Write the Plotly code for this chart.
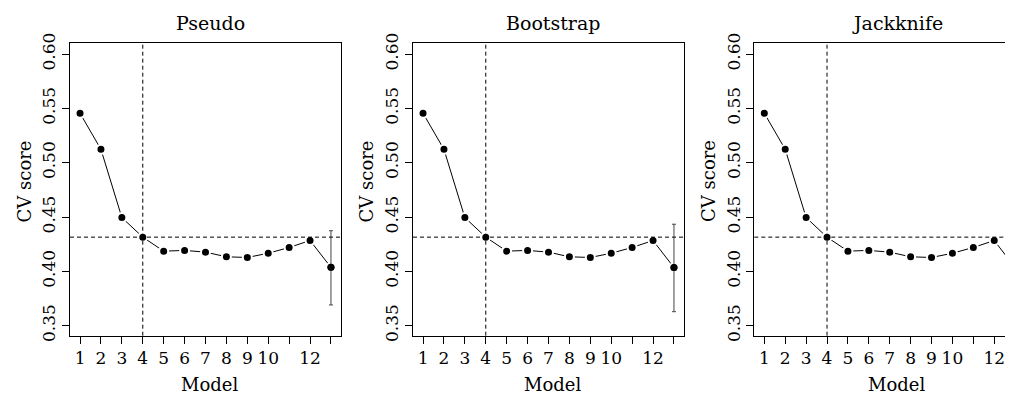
import plotly.graph_objects as go

# ---- data ----
models = [1, 2, 3, 4, 5, 6, 7, 8, 9, 10, 11, 12, 13]
x_tick_vals = [1, 2, 3, 4, 5, 6, 7, 8, 9, 10, 11, 12, 13]
x_tick_text = ["1", "2", "3", "4", "5", "6", "7", "8", "9", "10", "", "12", ""]
y_tick_vals = [0.35, 0.40, 0.45, 0.50, 0.55, 0.60]
y_tick_text = ["0.35", "0.40", "0.45", "0.50", "0.55", "0.60"]

panel_titles = ["Pseudo", "Bootstrap", "Jackknife"]
pseudo_cv = [0.5455, 0.5123, 0.4495, 0.4315, 0.4186, 0.4193, 0.4177, 0.4134, 0.4128, 0.4167, 0.4220, 0.4284, 0.4037]
bootstrap_cv = [0.5455, 0.5123, 0.4495, 0.4315, 0.4186, 0.4193, 0.4177, 0.4134, 0.4128, 0.4167, 0.4220, 0.4284, 0.4035]
jackknife_cv = [0.5455, 0.5123, 0.4495, 0.4315, 0.4186, 0.4193, 0.4177, 0.4134, 0.4128, 0.4167, 0.4220, 0.4284, 0.4035]
err_upper = [0.4374, 0.4434, 0.4434]   # upper end of error bar at last model
err_lower = [0.3691, 0.3629, 0.3629]   # lower end of error bar at last model
selected_model = 4
threshold = 0.4315

series = [pseudo_cv, bootstrap_cv, jackknife_cv]

# ---- layout geometry (page pixels; the page body has an 8px margin) ----
W, H = 1013, 396
OFF = 8
FONT = "DejaVu Serif"
box_left = [70, 413, 754.3]
box_right = [341, 684, 1013]
box_top, box_bottom = 43.3, 335.7
x_ranges = [[0.52, 13.48], [0.52, 13.48], [0.52, 0.52 + (1013 - 754.3) / 20.9]]
y_range = [0.3408, 0.6099]
title_cx = [210, 553, 897.5]
ylab_cx = [24, 366, 708.5]


def px(xp):
    return (xp - OFF) / W


def py(yp):
    return (H - (yp - OFF)) / H


fig = go.Figure()
for i, vals in enumerate(series):
    xa = "x" if i == 0 else f"x{i+1}"
    ya = "y" if i == 0 else f"y{i+1}"
    fig.add_trace(go.Scatter(
        x=models, y=vals, xaxis=xa, yaxis=ya, mode="lines+markers",
        line=dict(color="black", width=1),
        marker=dict(color="black", size=9, line=dict(color="white", width=2)),
        showlegend=False, hoverinfo="skip"))
    last = vals[-1]
    fig.add_trace(go.Scatter(
        x=[models[-1]], y=[last], xaxis=xa, yaxis=ya, mode="markers",
        marker=dict(color="black", size=7),
        error_y=dict(type="data", symmetric=False,
                     array=[err_upper[i] - last], arrayminus=[last - err_lower[i]],
                     color="#444444", thickness=1, width=2),
        showlegend=False, hoverinfo="skip"))

    dom_x = [px(box_left[i]), px(box_right[i])]
    dom_y = [py(box_bottom), py(box_top)]
    sfx = "" if i == 0 else str(i + 1)
    fig.layout["xaxis" + sfx] = dict(
        domain=dom_x, range=x_ranges[i], anchor=ya, automargin=False,
        tickmode="array", tickvals=x_tick_vals, ticktext=x_tick_text,
        ticks="outside", ticklen=7, tickcolor="black", tickwidth=1,
        showline=True, linecolor="black", linewidth=1, mirror=True,
        showgrid=False, zeroline=False,
        tickfont=dict(family=FONT, size=17, color="black"))
    fig.layout["yaxis" + sfx] = dict(
        domain=dom_y, range=y_range, anchor=xa, automargin=False,
        tickmode="array", tickvals=y_tick_vals, ticktext=y_tick_text,
        ticks="outside", ticklen=7, tickcolor="black", tickwidth=1,
        tickangle=-90,
        showline=True, linecolor="black", linewidth=1, mirror=(i < 2),
        showgrid=False, zeroline=False,
        tickfont=dict(family=FONT, size=17, color="black"))

    # reference lines
    fig.add_shape(type="line", xref=xa, yref=ya + " domain",
                  x0=selected_model, x1=selected_model, y0=0, y1=1,
                  line=dict(color="black", width=1, dash="4px,3px"))
    fig.add_shape(type="line", xref=xa + " domain", yref=ya,
                  x0=0, x1=1, y0=threshold, y1=threshold,
                  line=dict(color="black", width=1, dash="4px,3px"))

    # titles and axis labels
    fig.add_annotation(text=panel_titles[i], xref="paper", yref="paper",
                       x=px(title_cx[i]), y=py(23), showarrow=False,
                       xanchor="center", yanchor="middle",
                       font=dict(family=FONT, size=19, color="black"))
    fig.add_annotation(text="Model", xref="paper", yref="paper",
                       x=px(title_cx[i] - 1), y=py(384), showarrow=False,
                       xanchor="center", yanchor="middle",
                       font=dict(family=FONT, size=18, color="black"))
    fig.add_annotation(text="CV score", xref="paper", yref="paper",
                       x=px(ylab_cx[i]), y=py(181.4), showarrow=False,
                       xanchor="center", yanchor="middle", textangle=-90,
                       font=dict(family=FONT, size=18, color="black"))

fig.update_layout(width=W, height=H, margin=dict(l=0, r=0, t=0, b=0),
                  paper_bgcolor="white", plot_bgcolor="white",
                  font=dict(family=FONT, color="black"))

fig.write_html("out.html")
